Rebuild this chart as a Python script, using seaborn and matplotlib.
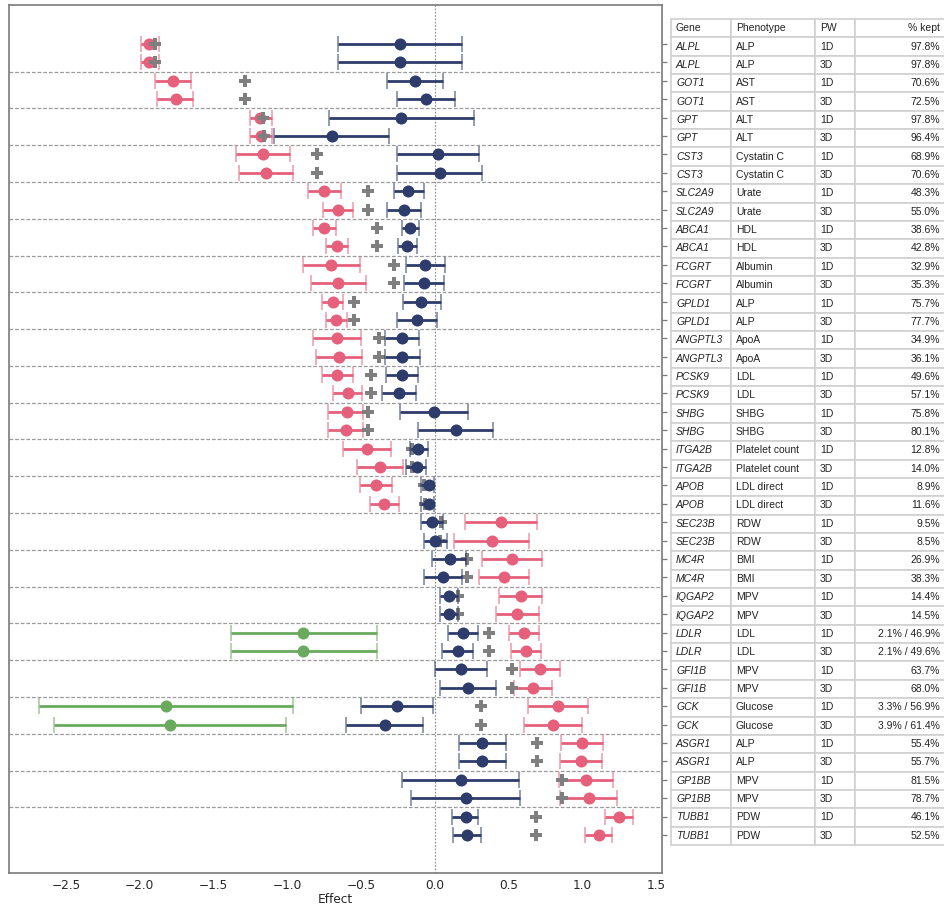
import matplotlib
matplotlib.use("Agg")
import matplotlib.pyplot as plt
import numpy as np
import pandas as pd
import seaborn as sns

# ---- data ----
genes = ["ALPL", "GOT1", "GPT", "CST3", "SLC2A9", "ABCA1", "FCGRT", "GPLD1",
         "ANGPTL3", "PCSK9", "SHBG", "ITGA2B", "APOB", "SEC23B", "MC4R", "IQGAP2",
         "LDLR", "GFI1B", "GCK", "ASGR1", "GP1BB", "TUBB1"]
phenotypes = ["ALP", "AST", "ALT", "Cystatin C", "Urate", "HDL", "Albumin", "ALP",
              "ApoA", "LDL", "SHBG", "Platelet count", "LDL direct", "RDW", "BMI", "MPV",
              "LDL", "MPV", "Glucose", "ALP", "MPV", "PDW"]
pw = ["1D", "3D"]
kept = ["97.8%", "97.8%", "70.6%", "72.5%", "97.8%", "96.4%", "68.9%", "70.6%",
        "48.3%", "55.0%", "38.6%", "42.8%", "32.9%", "35.3%", "75.7%", "77.7%",
        "34.9%", "36.1%", "49.6%", "57.1%", "75.8%", "80.1%", "12.8%", "14.0%",
        "8.9%", "11.6%", "9.5%", "8.5%", "26.9%", "38.3%", "14.4%", "14.5%",
        "2.1% / 46.9%", "2.1% / 49.6%", "63.7%", "68.0%", "3.3% / 56.9%", "3.9% / 61.4%",
        "55.4%", "55.7%", "81.5%", "78.7%", "46.1%", "52.5%"]

pink_est = [-1.94, -1.94, -1.775, -1.755, -1.185, -1.18, -1.165, -1.145, -0.75, -0.66,
            -0.75, -0.665, -0.705, -0.655, -0.693, -0.671, -0.666, -0.653, -0.662, -0.592,
            -0.598, -0.603, -0.463, -0.373, -0.402, -0.343, 0.447, 0.384, 0.524, 0.467,
            0.58, 0.558, 0.603, 0.614, 0.711, 0.662, 0.836, 0.802, 0.994, 0.989,
            1.021, 1.041, 1.244, 1.109]
pink_lo = [-1.99, -1.99, -1.90, -1.88, -1.25, -1.25, -1.35, -1.33, -0.86, -0.76,
           -0.825, -0.74, -0.895, -0.84, -0.763, -0.738, -0.824, -0.806, -0.768, -0.689,
           -0.727, -0.727, -0.626, -0.531, -0.508, -0.44, 0.203, 0.129, 0.316, 0.30,
           0.436, 0.413, 0.501, 0.515, 0.576, 0.537, 0.628, 0.603, 0.854, 0.847,
           0.84, 0.847, 1.149, 1.018]
pink_hi = [-1.87, -1.87, -1.65, -1.64, -1.105, -1.105, -0.98, -0.96, -0.64, -0.555,
           -0.67, -0.59, -0.51, -0.47, -0.621, -0.598, -0.504, -0.492, -0.558, -0.492,
           -0.486, -0.486, -0.298, -0.214, -0.289, -0.244, 0.689, 0.639, 0.723, 0.639,
           0.727, 0.705, 0.705, 0.716, 0.847, 0.79, 1.039, 0.994, 1.136, 1.131,
           1.208, 1.235, 1.339, 1.197]

navy_est = [-0.24, -0.24, -0.135, -0.06, -0.23, -0.70, 0.02, 0.034, -0.18, -0.21,
            -0.17, -0.19, -0.067, -0.072, -0.095, -0.12, -0.224, -0.222, -0.226, -0.244,
            -0.007, 0.142, -0.113, -0.12, -0.038, -0.04, -0.023, 0.0, 0.102, 0.052,
            0.095, 0.093, 0.192, 0.156, 0.176, 0.226, -0.255, -0.339, 0.321, 0.321,
            0.174, 0.208, 0.208, 0.219]
navy_lo = [-0.66, -0.66, -0.325, -0.26, -0.72, -1.09, -0.255, -0.255, -0.28, -0.325,
           -0.225, -0.25, -0.196, -0.21, -0.219, -0.255, -0.339, -0.339, -0.334, -0.361,
           -0.237, -0.117, -0.17, -0.196, -0.097, -0.097, -0.097, -0.075, -0.023, -0.075,
           0.034, 0.034, 0.09, 0.05, 0.002, 0.034, -0.504, -0.603, 0.16, 0.16,
           -0.221, -0.163, 0.117, 0.124]
navy_hi = [0.18, 0.18, 0.055, 0.135, 0.265, -0.31, 0.30, 0.32, -0.075, -0.095,
           -0.105, -0.125, 0.068, 0.064, 0.038, 0.011, -0.106, -0.102, -0.117, -0.129,
           0.226, 0.395, -0.05, -0.061, -0.004, -0.01, 0.056, 0.079, 0.21, 0.183,
           0.155, 0.155, 0.289, 0.255, 0.354, 0.411, -0.011, -0.079, 0.481, 0.481,
           0.569, 0.576, 0.294, 0.309]

plus_val = [-1.90, -1.90, -1.29, -1.29, -1.165, -1.16, -0.80, -0.80, -0.455, -0.455,
            -0.395, -0.395, -0.28, -0.28, -0.549, -0.549, -0.379, -0.379, -0.436, -0.436,
            -0.456, -0.456, -0.158, -0.158, -0.072, -0.068, 0.038, 0.034, 0.219, 0.219,
            0.158, 0.153, 0.366, 0.366, 0.52, 0.52, 0.309, 0.309, 0.689, 0.689,
            0.863, 0.863, 0.684, 0.684]

green_rows = [32, 33, 36, 37]
green_est = [-0.892, -0.892, -1.823, -1.795]
green_lo = [-1.384, -1.384, -2.681, -2.581]
green_hi = [-0.395, -0.395, -0.964, -1.009]

PINK = "#e6607c"
NAVY = "#2d3c6b"
GREEN = "#6aaa5e"
GREY = "#7f7f7f"

sns.set_style("white")
plt.rcParams["font.family"] = ["DejaVu Sans"]

rows = np.arange(len(pink_est))
df = pd.DataFrame({"row": rows, "pink": pink_est, "pink_lo": pink_lo, "pink_hi": pink_hi,
                   "navy": navy_est, "navy_lo": navy_lo, "navy_hi": navy_hi, "plus": plus_val})
gdf = pd.DataFrame({"row": green_rows, "est": green_est, "lo": green_lo, "hi": green_hi})

fig = plt.figure(figsize=(9.44, 9.08), dpi=100)
ax = fig.add_axes([9 / 944, 1 - 873 / 908, (662 - 9) / 944, (873 - 5) / 908])


def draw_ci(est, lo, hi, y, color, z):
    est = np.asarray(est)
    eb = ax.errorbar(est, y, xerr=[est - np.asarray(lo), np.asarray(hi) - est], fmt="none",
                     ecolor=color, elinewidth=2, capsize=6, capthick=1.2, zorder=z)
    for cap in eb[1]:
        cap.set_alpha(0.6)


# separators and zero line
for k in range(1, 22):
    ax.axhline(2 * k - 0.5, color="#9a9a9a", lw=0.9, ls=(0, (3, 1.5)), zorder=1)
ax.axvline(0, color="#888888", lw=0.8, ls=(0, (1.5, 1.5)), zorder=1)

draw_ci(df["pink"], df["pink_lo"], df["pink_hi"], df["row"], PINK, 2)
sns.scatterplot(data=df, x="pink", y="row", color=PINK, s=75, linewidth=0, zorder=3, ax=ax)
draw_ci(gdf["est"], gdf["lo"], gdf["hi"], gdf["row"], GREEN, 2)
sns.scatterplot(data=gdf, x="est", y="row", color=GREEN, s=75, linewidth=0, zorder=3, ax=ax)
sns.scatterplot(data=df, x="plus", y="row", color=GREY, marker="P", s=70, linewidth=0,
                zorder=4, ax=ax)
draw_ci(df["navy"], df["navy_lo"], df["navy_hi"], df["row"], NAVY, 5)
sns.scatterplot(data=df, x="navy", y="row", color=NAVY, s=75, linewidth=0, zorder=6, ax=ax)

ax.set_xlim(-2.886, 1.538)
ax.set_ylim(45.07, -2.12)
ax.set_xticks([-2.5, -2.0, -1.5, -1.0, -0.5, 0.0, 0.5, 1.0, 1.5])
ax.set_yticks(rows)
ax.yaxis.tick_right()
ax.tick_params(axis="y", right=True, left=False, labelright=False, length=3.5,
               width=0.9, color="#7a7a7a", direction="out")
ax.tick_params(axis="x", bottom=False, length=0, pad=4, labelsize=8.7)
ax.set_xlabel("Effect", fontsize=8.7, labelpad=1)
ax.set_ylabel("")
for sp in ax.spines.values():
    sp.set_color("#7a7a7a")
    sp.set_linewidth(1.2)

# ---- table on the right ----
tax = fig.add_axes([671 / 944, 1 - 845 / 908, (947 - 671) / 944, (845 - 19) / 908])
tax.axis("off")
cells = []
for i, g in enumerate(genes):
    for j, p in enumerate(pw):
        cells.append([g, phenotypes[i], p, kept[2 * i + j]])
col_px = [60, 84, 40, 92]
widths = [c / sum(col_px) for c in col_px]
tbl = tax.table(cellText=cells, colLabels=["Gene", "Phenotype", "PW", "% kept"],
                colWidths=widths, bbox=[0, 0, 1, 1], cellLoc="left", colLoc="left")
tbl.auto_set_font_size(False)
for (r, c), cell in tbl.get_celld().items():
    cell.set_edgecolor("#d0d0d0")
    cell.set_linewidth(1.2)
    txt = cell.get_text()
    txt.set_fontsize(7.5)
    txt.set_fontfamily("Liberation Sans")
    txt.set_color("#222222")
    cell._loc = "left"
    txt.set_ha("left")
    cell.PAD = 5.0 / col_px[c]
    if c == 3:
        txt.set_ha("right")
        cell._loc = "right"
        cell.PAD = 7.0 / col_px[c]
    if c == 0 and r > 0:
        txt.set_fontstyle("italic")

fig.savefig("out.png", dpi=100)
